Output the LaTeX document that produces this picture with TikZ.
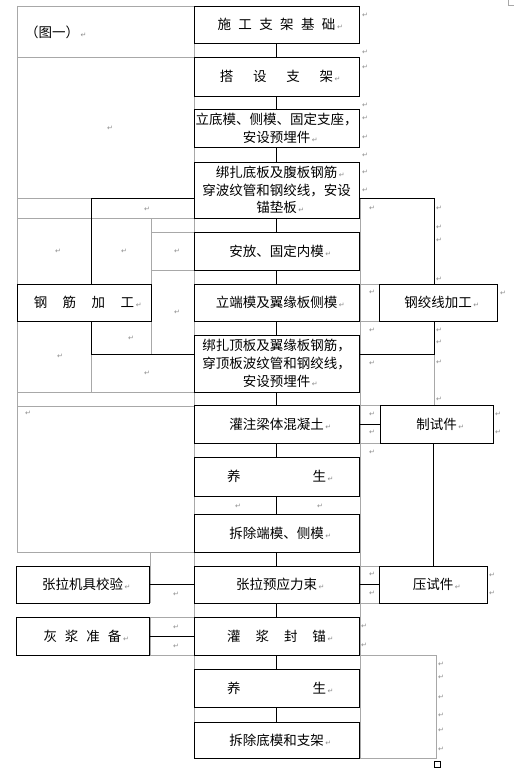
\documentclass[tikz,border=0pt]{standalone}
\usepackage{fontspec}
\setmainfont{Noto Sans CJK SC}
\newfontfamily\dv{DejaVu Sans}
\definecolor{gridgray}{HTML}{A8A8A8}
\definecolor{markgray}{HTML}{8C8C8C}
\newcommand{\pmk}{{\dv\fontsize{7}{7}\selectfont\color{markgray}↵}}
\newcommand{\rpm}{\rlap{\hspace{1.5pt}\pmk}}
\begin{document}
\begin{tikzpicture}[x=1pt,y=-1pt,
  box/.style={draw=black,line width=0.9pt,inner sep=0pt,align=center,font=\fontsize{13.5}{17.8}\selectfont},
  mainbox/.style={box,minimum width=165pt},
  conn/.style={draw=black,line width=0.9pt},
  gridline/.style={draw=gridgray,line width=0.7pt},
  pm/.style={inner sep=0pt,text=markgray,font=\dv\fontsize{7}{7}\selectfont}]
\useasboundingbox (0,0) rectangle (514,773);
\fill[white] (0,0) rectangle (514,773);

% ---------- table grid (gray) ----------
\draw[gridline] (17,6) -- (194,6);
\draw[gridline] (17,57) -- (194,57);
\draw[gridline] (17,6) -- (17,552);
\draw[gridline] (194,6) -- (194,758);
\draw[gridline] (17,198) -- (91,198);
\draw[gridline] (17,218) -- (194,218);
\draw[gridline] (151,218) -- (151,284);
\draw[gridline] (151,232) -- (194,232);
\draw[gridline] (151,270) -- (194,270);
\draw[gridline] (151,321) -- (151,354);
\draw[gridline] (91,354) -- (91,392);
\draw[gridline] (17,392) -- (194,392);
\draw[gridline] (17,406) -- (194,406);
\draw[gridline] (17,552) -- (194,552);
\draw[gridline] (150,552) -- (150,603);
\draw[gridline] (150,617) -- (150,655);
\draw[gridline] (150,617) -- (194,617);
\draw[gridline] (150,655) -- (194,655);
\draw[gridline] (360,198) -- (360,758);
\draw[gridline] (360,284) -- (379,284);
\draw[gridline] (360,321) -- (379,321);
\draw[gridline] (434,354) -- (434,405);
\draw[gridline] (360,405) -- (380,405);
\draw[gridline] (360,443) -- (380,443);
\draw[gridline] (360,566) -- (379,566);
\draw[gridline] (360,603) -- (379,603);
\draw[gridline] (360,655) -- (436,655) -- (436,758) -- (360,758);
\draw[gridline] (508,0) -- (508,5) -- (514,5);
\draw[line width=0.6pt] (434,761) rectangle (440,767);

% ---------- paragraph marks ----------
\foreach [count=\i] \x/\y in {110/128,147/209,58/251,124/251,177/251,177/312,131/338,60/356,147/373,28/413,176/594,176/627,176/646,238/506,320/506,
365/15,365/52,365/67,365/105,365/118,365/137,365/155,365/172,365/190,
372/208,372/292,372/330,372/363,372/414,372/432,372/452,
439/208,439/227,439/240,439/279,439/330,439/342,439/362,439/399,
503/293,498/414,498/432,372/574,372/593,492/575,492/593,364/626,364/645,
441/664,441/677,441/697,441/715,441/730,441/749}
  \node[pm] (pm\i) at (\x,\y) {↵};

\node[anchor=west,inner sep=0pt,font=\fontsize{13.5}{16}\selectfont] (fig) at (25,32) {（图一）\rpm};

% ---------- main column ----------
\node[mainbox,minimum height=37pt] (B1) at (276.5,24.5) {施\hspace{7.4pt}工\hspace{7.4pt}支\hspace{7.4pt}架\hspace{7.4pt}基\hspace{7.4pt}础\rpm};
\node[mainbox,minimum height=39pt] (B2) at (276.5,76.5) {搭\hspace{19.8pt}设\hspace{19.8pt}支\hspace{19.8pt}架\rpm};
\node[mainbox,minimum height=38pt] (B3) at (276.5,128) {立底模、侧模、固定支座，\\安设预埋件\rpm};
\node[mainbox,minimum height=56pt] (B4) at (276.5,190) {绑扎底板及腹板钢筋\rpm\\穿波纹管和钢绞线，安设\\锚垫板\rpm};
\node[mainbox,minimum height=38pt] (B5) at (276.5,251) {安放、固定内模\rpm};
\node[mainbox,minimum height=37pt] (B6) at (276.5,302.5) {立端模及翼缘板侧模\rpm};
\node[mainbox,minimum height=57pt] (B7) at (276.5,363.5) {绑扎顶板及翼缘板钢筋，\\穿顶板波纹管和钢绞线，\\安设预埋件\rpm};
\node[mainbox,minimum height=38pt] (B8) at (276.5,424) {灌注梁体混凝土\rpm};
\node[mainbox,minimum height=39pt] (B9) at (276.5,476.5) {养\hspace{72pt}生\rpm};
\node[mainbox,minimum height=38pt] (B10) at (276.5,533) {拆除端模、侧模\rpm};
\node[mainbox,minimum height=37pt] (B11) at (276.5,584.5) {张拉预应力束\rpm};
\node[mainbox,minimum height=38pt] (B12) at (276.5,636) {灌\hspace{15pt}浆\hspace{15pt}封\hspace{15pt}锚\rpm};
\node[mainbox,minimum height=38pt] (B13) at (276.5,688) {养\hspace{72pt}生\rpm};
\node[mainbox,minimum height=36pt] (B14) at (276.5,740) {拆除底模和支架\rpm};

% ---------- side boxes ----------
\node[box,minimum width=134pt,minimum height=37pt] (GJ) at (84,302.5) {钢\hspace{15.5pt}筋\hspace{15.5pt}加\hspace{15.5pt}工\rpm};
\node[box,minimum width=133pt,minimum height=37pt] (ZLJ) at (82.5,584.5) {张拉机具校验\rpm};
\node[box,minimum width=133pt,minimum height=38pt] (HJ) at (82.5,636) {灰\hspace{8pt}浆\hspace{8pt}准\hspace{8pt}备\rpm};
\node[box,minimum width=118pt,minimum height=37pt] (GJX) at (438,302.5) {钢绞线加工\rpm};
\node[box,minimum width=113pt,minimum height=38pt] (ZSJ) at (436.5,424) {制试件\rpm};
\node[box,minimum width=108pt,minimum height=37pt] (YSJ) at (433,584.5) {压试件\rpm};

% ---------- connectors ----------
\foreach \a/\b in {B1/B2,B2/B3,B3/B4,B4/B5,B5/B6,B6/B7,B7/B8,B8/B9,B9/B10,B10/B11,B11/B12,B12/B13,B13/B14}
  \draw[conn] (\a.south) -- (\b.north);
\coordinate (c1) at (91,198);
\coordinate (c2) at (91,354);
\coordinate (c3) at (434,198);
\coordinate (c4) at (434,354);
\draw[conn] (c1 |- GJ.north) -- (c1) -- (c1 -| B4.west);
\draw[conn] (c2 |- GJ.south) -- (c2) -- (c2 -| B7.west);
\draw[conn] (c3 -| B4.east) -- (c3) -- (c3 |- GJX.north);
\draw[conn] (c4 |- GJX.south) -- (c4) -- (c4 -| B7.east);
\draw[conn] (B8.east) -- (B8.east -| ZSJ.west);
\draw[conn] (YSJ.north |- ZSJ.south) -- (YSJ.north);
\draw[conn] (B11.east) -- (YSJ.west);
\draw[conn] (ZLJ.east) -- (B11.west);
\draw[conn] (HJ.east) -- (B12.west);
\end{tikzpicture}
\end{document}
